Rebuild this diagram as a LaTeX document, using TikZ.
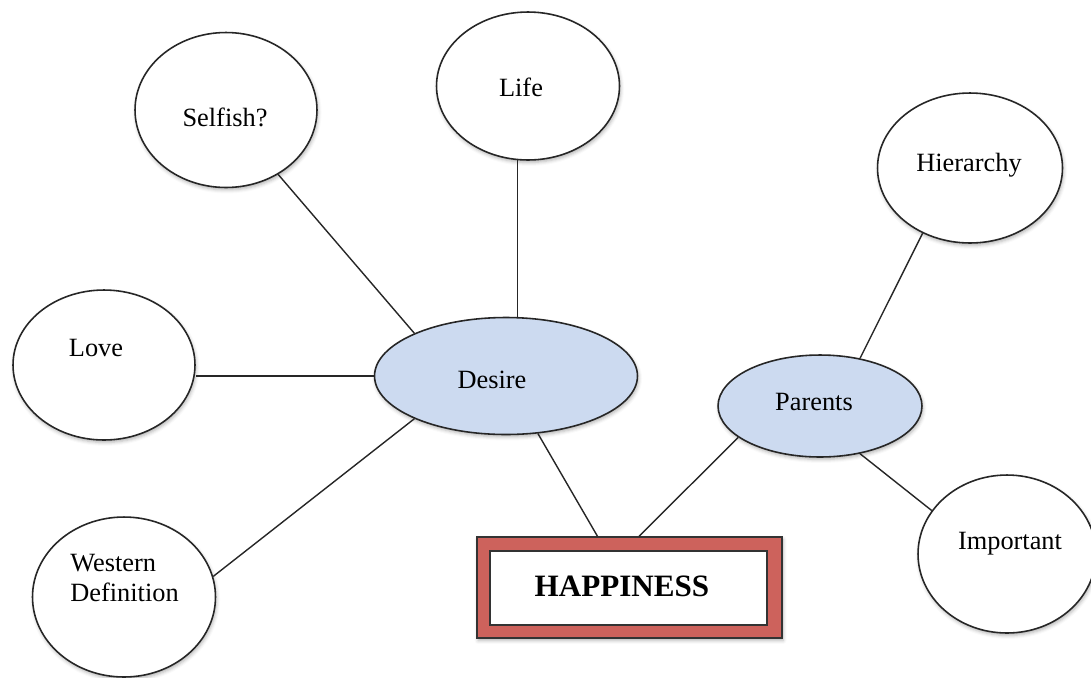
\documentclass[tikz,border=0pt]{standalone}
\usepackage{fontspec}
\setmainfont{Liberation Serif}
\usetikzlibrary{shapes.geometric,calc,shadows.blur}
\definecolor{hubblue}{HTML}{CCDAF0}
\definecolor{boxred}{HTML}{CD625C}
\begin{document}
\begin{tikzpicture}[x=0.02cm,y=-0.02cm,
  soft/.style={blur shadow={shadow xshift=0.6pt,shadow yshift=-1.4pt,shadow blur radius=2pt,shadow opacity=30}},
  bubble/.style={ellipse,draw=black!85,line width=0.9pt,fill=white,inner sep=0pt,soft},
  hub/.style={bubble,fill=hubblue},
  word/.style={font=\fontsize{15}{17}\selectfont,inner sep=0pt},
  link/.style={draw=black!85,line width=0.8pt}]
\useasboundingbox (0,0) rectangle (1091,677);

% outer ring of ideas
\node[bubble,minimum width=3.64cm,minimum height=3.10cm] (selfish) at (226,110) {};
\node[bubble,minimum width=3.66cm,minimum height=2.96cm] (life) at (528,86) {};
\node[bubble,minimum width=3.70cm,minimum height=3.00cm] (hierarchy) at (970,168) {};
\node[bubble,minimum width=3.64cm,minimum height=3.00cm] (love) at (104,365) {};
\node[bubble,minimum width=3.66cm,minimum height=3.20cm] (western) at (124,597) {};
\node[bubble,minimum width=3.56cm,minimum height=3.16cm] (important) at (1007,554) {};

% the two hubs
\node[hub,minimum width=5.26cm,minimum height=2.34cm] (desire) at (506,376) {};
\node[hub,minimum width=4.08cm,minimum height=2.04cm] (parents) at (820,406) {};

% central box
\node[rectangle,draw=black!80,line width=0.8pt,fill=boxred,minimum width=6.10cm,minimum height=2.02cm,inner sep=0pt,soft] (hap) at (629.5,587.5) {};
\node[rectangle,draw=black!80,line width=0.8pt,fill=white,minimum width=5.54cm,minimum height=1.48cm,inner sep=0pt] (hapin) at (628.5,588) {};

% labels
\node[word] (tselfish) at (225,117) {Selfish?};
\node[word] (tlife) at (521,87) {Life};
\node[word] (thierarchy) at (969,165) {Hierarchy};
\node[word] (tlove) at (96,348) {Love};
\node[word,align=left,anchor=west] (twestern) at (70,578) {Western\\Definition};
\node[word] (timportant) at (1010,544) {Important};
\node[word] (tdesire) at (492,380) {Desire};
\node[word] (tparents) at (814,402) {Parents};
\node[font=\fontsize{17.7}{20}\selectfont\bfseries,inner sep=0pt] (thap) at (622,586) {HAPPINESS};

% connectors
\draw[link] (selfish.-51) -- (desire.155);
\draw[link] (life.-98) -- (life.-98 |- desire.north);
\draw[link] (love.east |- desire.west) -- (desire.west);
\draw[link] (western.13) -- (desire.205);
\draw[link] (desire.-61.5) -- ($(hap.north)+(-32,0)$);
\draw[link] (parents.201) -- ($(hap.north)+(9.5,0)$);
\draw[link] (hierarchy.234) -- (parents.50);
\draw[link] (parents.-50) -- (important.150);
\end{tikzpicture}
\end{document}
